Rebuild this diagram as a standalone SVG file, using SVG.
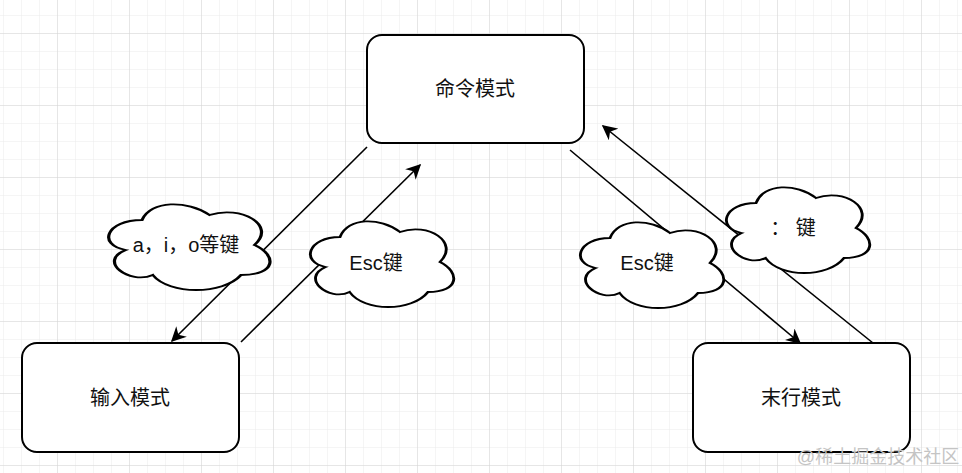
<svg xmlns="http://www.w3.org/2000/svg" width="962" height="473" viewBox="0 0 962 473">
<style>
text{font-family:"Liberation Sans","Noto Sans CJK SC",sans-serif;font-size:20px;fill:#111;text-anchor:middle;dominant-baseline:central}
.box{fill:#fff;stroke:#000;stroke-width:2}
.cloud{fill:#fff;stroke:#000;stroke-width:1.8;vector-effect:non-scaling-stroke}
.edge{stroke:#000;stroke-width:1.6;fill:none;marker-end:url(#ah)}
</style>
<defs>
<pattern id="minor" width="18" height="18" patternUnits="userSpaceOnUse" x="-14" y="-2">
<path d="M18 0V18H0" fill="none" stroke="#ebebeb" stroke-width="1"/>
</pattern>
<pattern id="major" width="72" height="72" patternUnits="userSpaceOnUse" x="-14" y="-38">
<path d="M72 0V72H0" fill="none" stroke="#d6d6d6" stroke-width="1"/>
</pattern>
<marker id="ah" viewBox="0 0 10 10" refX="9" refY="5" markerWidth="15" markerHeight="15" markerUnits="userSpaceOnUse" orient="auto">
<path d="M0 0L10 5L0 10L3 5Z" fill="#000"/>
</marker>
<path id="cl" d="M25 25C5 25 0 50 16 55C0 66 18 90 31 80C40 100 70 100 80 80C100 80 100 60 87.5 50C100 30 80 10 62.5 20C50 5 30 5 25 25Z"/>
</defs>
<rect width="962" height="473" fill="#fff"/>
<rect width="962" height="473" fill="url(#minor)"/>
<rect width="962" height="473" fill="url(#major)"/>
<g id="connectors">
<path class="edge" d="M367 147L172 341"/>
<path class="edge" d="M241 342L420 165"/>
<path class="edge" d="M570 150L800 343"/>
<path class="edge" d="M873 343L603 126"/>
</g>
<g id="cmd"><rect class="box" x="367" y="35" width="217" height="108" rx="15"/><text x="475" y="89">命令模式</text></g>
<g id="input"><rect class="box" x="22" y="343" width="217" height="109" rx="15"/><text x="130" y="398">输入模式</text></g>
<g id="last"><rect class="box" x="693" y="343" width="217" height="109" rx="15"/><text x="801" y="398">末行模式</text></g>
<g id="c1"><use href="#cl" class="cloud" transform="translate(97 195) scale(1.8 1)"/><text x="186" y="245">a，i，o等键</text></g>
<g id="c2"><use href="#cl" class="cloud" transform="translate(300 212) scale(1.6 1)"/><text x="376" y="263">Esc键</text></g>
<g id="c3"><use href="#cl" class="cloud" transform="translate(570 213) scale(1.6 1)"/><text x="647" y="263">Esc键</text></g>
<g id="c4"><use href="#cl" class="cloud" transform="translate(716 178) scale(1.6 1)"/><text x="793" y="228">：  键</text></g>
<text x="878" y="457" style="font-size:18px;fill:#c4c4c4">@稀土掘金技术社区</text>
</svg>
